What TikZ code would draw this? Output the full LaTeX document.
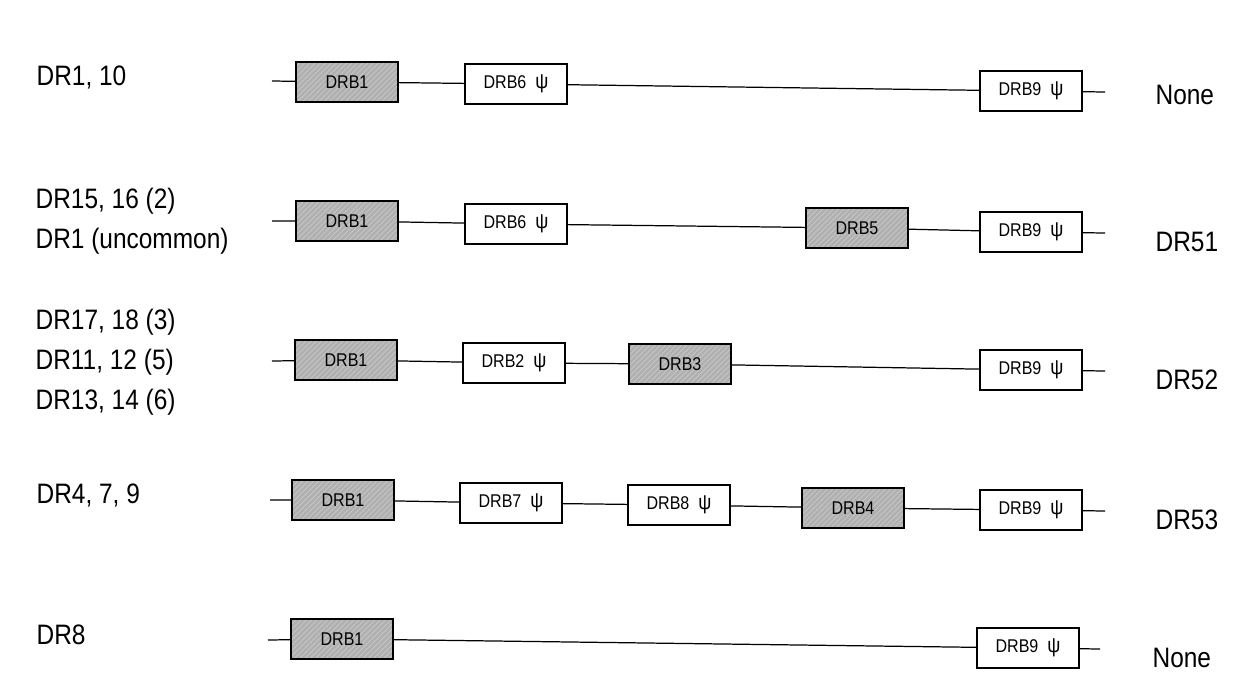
\documentclass[tikz,border=0pt]{standalone}
\usepackage{fontspec}
\setmainfont{Liberation Sans}
\newfontfamily\narrowsans[FakeStretch=0.87]{Liberation Sans}
\newcommand\psig{{\fontsize{12}{12}\selectfont ψ}}
\usetikzlibrary{patterns}
\begin{document}
\begin{tikzpicture}[x=0.02cm,y=-0.02cm,line width=0.7pt,
        gene/.style={draw,minimum width=2.04cm,minimum height=0.8cm,inner sep=0pt,font=\narrowsans\fontsize{10.5}{12}\selectfont},
        expr/.style={gene,preaction={fill=gray!62},pattern=north east lines,pattern color=gray!42},
        pseudo/.style={gene,fill=white},
        haplo/.style={anchor=west,align=left,inner sep=0pt,font=\narrowsans\fontsize{16}{22.8}\selectfont},
        product/.style={anchor=west,inner sep=0pt,font=\narrowsans\fontsize{16}{19}\selectfont}]
        \useasboundingbox (0,0) rectangle (1248,684);
        % row 1
        \coordinate (s1) at (272,81);
        \coordinate (e1) at (1105,92);
        \node [expr]   (r1b1) at (347,82)  {DRB1};
        \node [pseudo] (r1b6) at (516,84)  {DRB6~~\psig};
        \node [pseudo] (r1b9) at (1031,91) {DRB9~~\psig};
        \draw (s1) -- (r1b1) -- (r1b6) -- (r1b9) -- (e1);
        \node [haplo]   (h1) at (36,77)   {DR1, 10};
        \node [product] (p1) at (1155,95) {None};
        % row 2
        \coordinate (s2) at (272,221);
        \coordinate (e2) at (1105,233);
        \node [expr]   (r2b1) at (347,221)  {DRB1};
        \node [pseudo] (r2b6) at (516,224)  {DRB6~~\psig};
        \node [expr]   (r2b5) at (857,228)  {DRB5};
        \node [pseudo] (r2b9) at (1031,232) {DRB9~~\psig};
        \draw (s2) -- (r2b1) -- (r2b6) -- (r2b5) -- (r2b9) -- (e2);
        \node [haplo]   (h2) at (35,221)   {DR15, 16 (2)\\DR1 (uncommon)};
        \node [product] (p2) at (1155,242) {DR51};
        % row 3
        \coordinate (s3) at (272,361);
        \coordinate (e3) at (1105,371);
        \node [expr]   (r3b1) at (346,360)  {DRB1};
        \node [pseudo] (r3b2) at (514,363)  {DRB2~~\psig};
        \node [expr]   (r3b3) at (680,364)  {DRB3};
        \node [pseudo] (r3b9) at (1031,370) {DRB9~~\psig};
        \draw (s3) -- (r3b1) -- (r3b2) -- (r3b3) -- (r3b9) -- (e3);
        \node [haplo]   (h3) at (35,362)   {DR17, 18 (3)\\DR11, 12 (5)\\DR13, 14 (6)};
        \node [product] (p3) at (1155,380) {DR52};
        % row 4
        \coordinate (s4) at (270,500);
        \coordinate (e4) at (1105,511);
        \node [expr]   (r4b1) at (343,500)  {DRB1};
        \node [pseudo] (r4b7) at (511,503)  {DRB7~~\psig};
        \node [pseudo] (r4b8) at (679,505)  {DRB8~~\psig};
        \node [expr]   (r4b4) at (853,508)  {DRB4};
        \node [pseudo] (r4b9) at (1031,510) {DRB9~~\psig};
        \draw (s4) -- (r4b1) -- (r4b7) -- (r4b8) -- (r4b4) -- (r4b9) -- (e4);
        \node [haplo]   (h4) at (36,495)   {DR4, 7, 9};
        \node [product] (p4) at (1155,520) {DR53};
        % row 5
        \coordinate (s5) at (268,640);
        \coordinate (e5) at (1100,649);
        \node [expr]   (r5b1) at (342,639)  {DRB1};
        \node [pseudo] (r5b9) at (1028,648) {DRB9~~\psig};
        \draw (s5) -- (r5b1) -- (r5b9) -- (e5);
        \node [haplo]   (h5) at (36,635)   {DR8};
        \node [product] (p5) at (1152,658) {None};
\end{tikzpicture}
\end{document}
